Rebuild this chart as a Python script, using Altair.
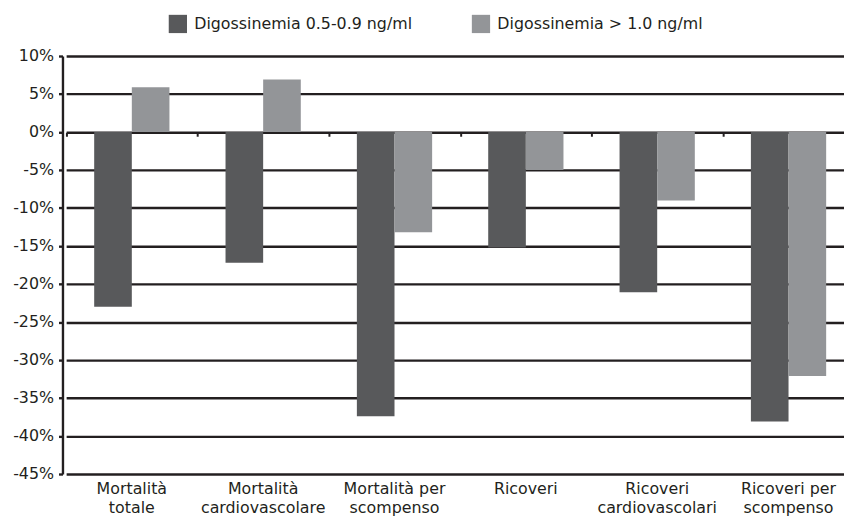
import json
import altair as alt
import pandas as pd

categories = [
    "Mortalità totale",
    "Mortalità cardiovascolare",
    "Mortalità per scompenso",
    "Ricoveri",
    "Ricoveri cardiovascolari",
    "Ricoveri per scompenso",
]
label_lines = [
    ["Mortalità", "totale"],
    ["Mortalità", "cardiovascolare"],
    ["Mortalità per", "scompenso"],
    ["Ricoveri"],
    ["Ricoveri", "cardiovascolari"],
    ["Ricoveri per", "scompenso"],
]
series_names = ["Digossinemia 0.5-0.9 ng/ml", "Digossinemia > 1.0 ng/ml"]
values_low = [-23.0, -17.2, -37.4, -15.2, -21.1, -38.1]
values_high = [5.9, 6.9, -13.2, -5.0, -9.0, -32.1]
y_ticks = list(range(-45, 11, 5))
colors = ["#58595b", "#939598"]

rows = []
for i, c in enumerate(categories):
    rows.append({"category": c, "serie": series_names[0], "value": values_low[i]})
    rows.append({"category": c, "serie": series_names[1], "value": values_high[i]})
df = pd.DataFrame(rows)

# multi-line label expression
expr = "datum.label"
for c, lines in reversed(list(zip(categories, label_lines))):
    expr = f"datum.label == {json.dumps(c, ensure_ascii=False)} ? {json.dumps(lines, ensure_ascii=False)} : ({expr})"

FONT = "DejaVu Sans"
INK = "#231f20"

xscale = alt.Scale(domain=categories, range=[3.7, 799.3], paddingInner=0.427, paddingOuter=0.2135)
xscale_cells = alt.Scale(domain=categories, range=[3.7, 799.3], paddingInner=0, paddingOuter=0)
yscale = alt.Scale(domain=[-45, 10], nice=False, zero=False)

bars = alt.Chart(df).mark_bar().encode(
    x=alt.X("category:N", sort=categories, scale=xscale,
            axis=alt.Axis(title=None, labelAngle=0, labelExpr=expr, domain=False, ticks=False,
                          labelFont=FONT, labelFontSize=16, labelColor=INK, labelPadding=7,
                          labelLineHeight=19, labelBaseline="top", labelAlign="center", grid=False)),
    xOffset=alt.XOffset("serie:N", sort=series_names, scale=alt.Scale(paddingInner=0, paddingOuter=0)),
    y=alt.Y("value:Q", scale=yscale,
            axis=alt.Axis(title=None, values=y_ticks, labelExpr="datum.value + '%'",
                          grid=True, gridColor=INK, gridWidth=2.4, gridOpacity=1,
                          domain=True, domainColor=INK, domainWidth=2.4, domainOpacity=1,
                          ticks=True, tickSize=4, tickWidth=2.4, tickColor=INK, tickOpacity=1,
                          labelFont=FONT, labelFontSize=16, labelColor=INK, labelPadding=5)),
    color=alt.Color("serie:N", sort=series_names,
                    scale=alt.Scale(domain=series_names, range=colors),
                    legend=alt.Legend(orient="none", legendX=107, legendY=-42, direction="horizontal",
                                      title=None, symbolType="square", symbolSize=340,
                                      symbolStrokeWidth=0, symbolOpacity=1, labelFont=FONT,
                                      labelFontSize=16, labelColor=INK, labelOffset=7,
                                      columnPadding=59, padding=0, labelLimit=0)),
)

boundary_ticks = alt.Chart(df).mark_bar(opacity=0).encode(
    x=alt.X("category:N", sort=categories, scale=xscale_cells,
            axis=alt.Axis(title=None, orient="bottom", offset=-345, labels=False, domain=False,
                          ticks=True, tickBand="extent", tickSize=4, tickWidth=2, tickColor=INK,
                          grid=False)),
)

chart = alt.layer(bars, boundary_ticks).resolve_scale(x="independent").resolve_axis(
    x="independent"
).properties(
    width=789,
    height=422,
    autosize=alt.AutoSizeParams(type="none"),
    padding={"left": 55, "top": 46, "right": 0, "bottom": 49},
).configure_view(stroke="transparent")

chart.save("out.html", embed_options={"renderer": "svg", "actions": False})
